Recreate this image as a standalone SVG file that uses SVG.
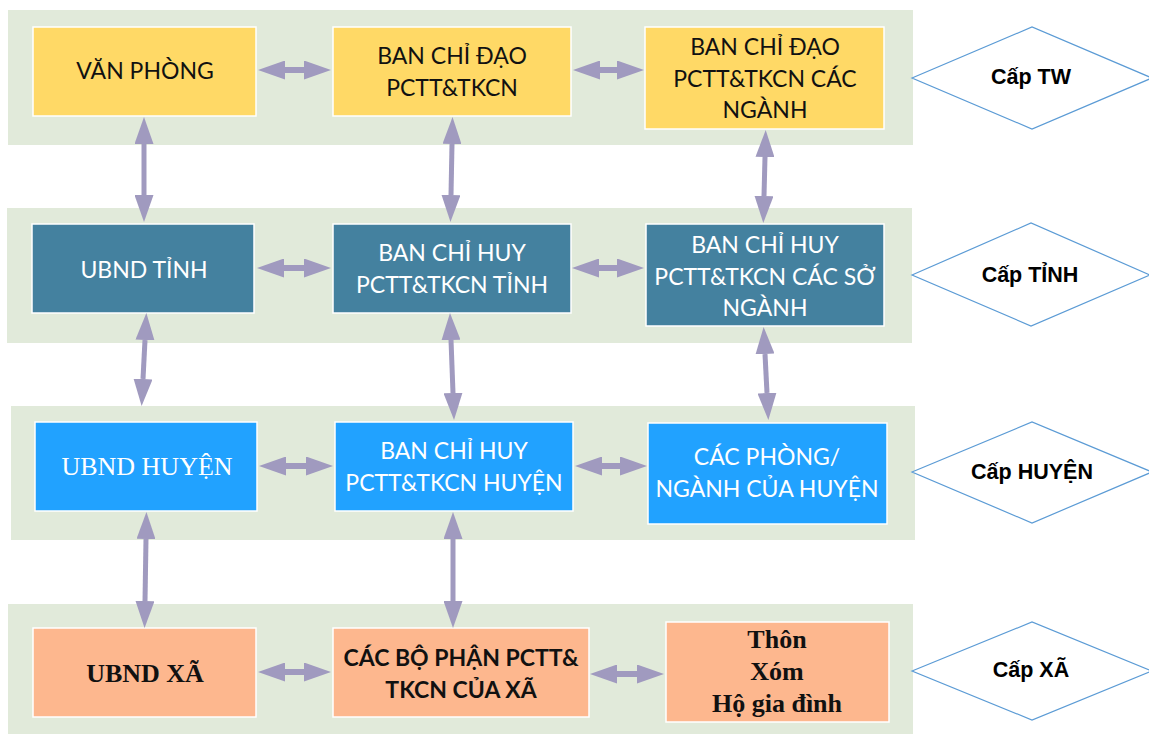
<svg xmlns="http://www.w3.org/2000/svg" width="1149" height="734" viewBox="0 0 1149 734">
  <style>
    .band { fill: #E1EADA; }
    .box { stroke: #FFFFFF; stroke-width: 1.5; }
    .yellow { fill: #FFD966; }
    .teal { fill: #44819F; }
    .blue { fill: #21A2FF; }
    .salmon { fill: #FDB78E; }
    .lvl { fill: #FFFFFF; stroke: #5B9BD5; stroke-width: 1.2; }
    text { text-anchor: middle; }
    .sans { font-family: Lato, "Liberation Sans", sans-serif; font-size: 23px; }
    .dark { fill: #111111; }
    .light { fill: #FFFFFF; }
    .serif { font-family: "Liberation Serif", "Times New Roman", serif; font-size: 26px; }
    .bold { font-weight: bold; }
    .lbl { font-family: "Liberation Sans", Arial, sans-serif; font-size: 21.5px; font-weight: bold; fill: #000000; }
    .conn { stroke: #A09ABF; fill: none; marker-start: url(#head); marker-end: url(#head); }
    .h { stroke-width: 6; }
    .v { stroke-width: 5; }
  </style>
  <defs>
    <marker id="head" markerUnits="userSpaceOnUse" viewBox="0 0 27 19" markerWidth="27" markerHeight="19" refX="0" refY="9.5" orient="auto-start-reverse">
      <path d="M0,0 L27,9.5 L0,19 Z" fill="#A09ABF"/>
    </marker>
  </defs>

  <!-- tier backgrounds -->
  <g id="tiers">
    <rect class="band" x="8" y="10" width="905" height="135"/>
    <rect class="band" x="7" y="208" width="905" height="135"/>
    <rect class="band" x="11" y="406" width="904" height="134"/>
    <rect class="band" x="8" y="604" width="905" height="130"/>
  </g>

  <!-- central level -->
  <g id="van-phong">
    <rect class="box yellow" x="33" y="27" width="223" height="89"/>
    <text class="sans dark" x="145" y="79">VĂN PHÒNG</text>
  </g>
  <g id="bcd-pctt">
    <rect class="box yellow" x="333" y="27" width="238" height="89"/>
    <text class="sans dark" x="452" y="64">BAN CHỈ ĐẠO</text>
    <text class="sans dark" x="452" y="96">PCTT&amp;TKCN</text>
  </g>
  <g id="bcd-nganh">
    <rect class="box yellow" x="645" y="27" width="239" height="102"/>
    <text class="sans dark" x="765" y="55">BAN CHỈ ĐẠO</text>
    <text class="sans dark" x="765" y="87">PCTT&amp;TKCN CÁC</text>
    <text class="sans dark" x="765" y="118">NGÀNH</text>
  </g>

  <!-- provincial level -->
  <g id="ubnd-tinh">
    <rect class="box teal" x="32" y="224" width="222" height="89"/>
    <text class="sans light" x="144" y="278">UBND TỈNH</text>
  </g>
  <g id="bch-tinh">
    <rect class="box teal" x="333" y="224" width="238" height="89"/>
    <text class="sans light" x="452" y="261">BAN CHỈ HUY</text>
    <text class="sans light" x="452" y="293">PCTT&amp;TKCN TỈNH</text>
  </g>
  <g id="bch-so-nganh">
    <rect class="box teal" x="646" y="224" width="238" height="102"/>
    <text class="sans light" x="765" y="253">BAN CHỈ HUY</text>
    <text class="sans light" x="765" y="285">PCTT&amp;TKCN CÁC SỞ</text>
    <text class="sans light" x="765" y="316">NGÀNH</text>
  </g>

  <!-- district level -->
  <g id="ubnd-huyen">
    <rect class="box blue" x="35" y="422" width="222" height="89"/>
    <text class="serif light" x="147" y="475" font-size="27">UBND HUYỆN</text>
  </g>
  <g id="bch-huyen">
    <rect class="box blue" x="335" y="422" width="238" height="89"/>
    <text class="sans light" x="454" y="459">BAN CHỈ HUY</text>
    <text class="sans light" x="454" y="491">PCTT&amp;TKCN HUYỆN</text>
  </g>
  <g id="phong-nganh">
    <rect class="box blue" x="648" y="423" width="239" height="101"/>
    <text class="sans light" x="767" y="465">CÁC PHÒNG/</text>
    <text class="sans light" x="767" y="497">NGÀNH CỦA HUYỆN</text>
  </g>

  <!-- commune level -->
  <g id="ubnd-xa">
    <rect class="box salmon" x="33" y="628" width="223" height="89"/>
    <text class="serif bold dark" x="145" y="682">UBND XÃ</text>
  </g>
  <g id="bo-phan-xa">
    <rect class="box salmon" x="333" y="628" width="256" height="89"/>
    <text class="sans bold dark" x="461" y="666">CÁC BỘ PHẬN PCTT&amp;</text>
    <text class="sans bold dark" x="461" y="698">TKCN CỦA XÃ</text>
  </g>
  <g id="thon-xom">
    <rect class="box salmon" x="666" y="622" width="223" height="100"/>
    <text class="serif bold dark" x="777" y="648">Thôn</text>
    <text class="serif bold dark" x="777" y="680">Xóm</text>
    <text class="serif bold dark" x="777" y="712">Hộ gia đình</text>
  </g>

  <!-- level markers -->
  <g id="cap-tw">
    <polygon class="lvl" points="912,78 1032,27 1152,78 1032,129"/>
    <text class="lbl" x="1031" y="84">Cấp TW</text>
  </g>
  <g id="cap-tinh">
    <polygon class="lvl" points="912,275 1031,223 1150,275 1031,326"/>
    <text class="lbl" x="1030" y="282">Cấp TỈNH</text>
  </g>
  <g id="cap-huyen">
    <polygon class="lvl" points="912,472 1032,422 1152,472 1032,523"/>
    <text class="lbl" x="1032" y="479">Cấp HUYỆN</text>
  </g>
  <g id="cap-xa">
    <polygon class="lvl" points="912,671 1032,622 1152,671 1032,720"/>
    <text class="lbl" x="1031" y="677">Cấp XÃ</text>
  </g>

  <!-- two-way connectors -->
  <g id="connectors">
    <line class="conn h" x1="285" y1="70" x2="304" y2="70"/>
    <line class="conn h" x1="600" y1="70" x2="617" y2="70"/>
    <line class="conn h" x1="284" y1="268" x2="304" y2="268"/>
    <line class="conn h" x1="599" y1="268" x2="617" y2="268"/>
    <line class="conn h" x1="286" y1="466" x2="306" y2="466"/>
    <line class="conn h" x1="602" y1="466" x2="620" y2="466"/>
    <line class="conn h" x1="285" y1="672" x2="304" y2="672"/>
    <line class="conn h" x1="617" y1="674" x2="637" y2="674"/>

    <line class="conn v" x1="144" y1="144" x2="144" y2="195"/>
    <line class="conn v" x1="452" y1="144" x2="451" y2="195"/>
    <line class="conn v" x1="765" y1="157" x2="764" y2="196"/>
    <line class="conn v" x1="145" y1="340" x2="143" y2="379"/>
    <line class="conn v" x1="451" y1="340" x2="453" y2="393"/>
    <line class="conn v" x1="765" y1="354" x2="767" y2="393"/>
    <line class="conn v" x1="146" y1="539" x2="145" y2="601"/>
    <line class="conn v" x1="453" y1="539" x2="453" y2="601"/>
  </g>
</svg>
